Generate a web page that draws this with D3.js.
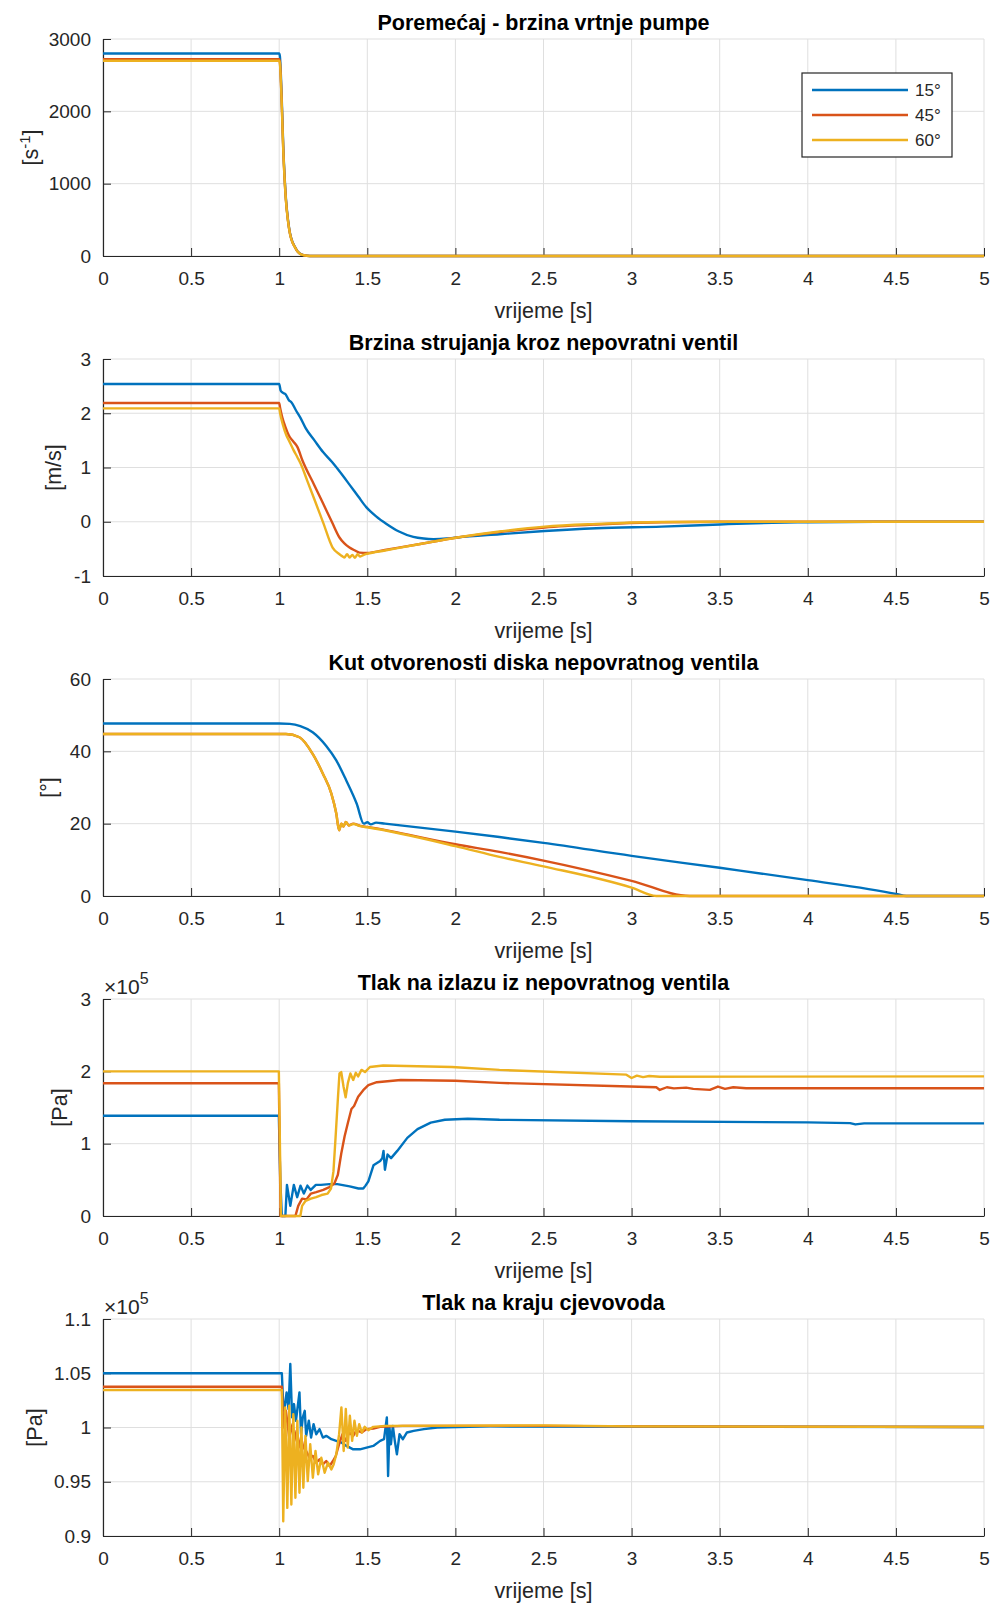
<!DOCTYPE html>
<html>
<head>
<meta charset="utf-8">
<script src="https://cdn.jsdelivr.net/npm/d3@7"></script>
<style>
  body { margin: 0; background: #fff; }
  svg { display: block; font-family: "Liberation Sans", Arial, sans-serif; }
</style>
</head>
<body>
<svg id="chart" width="992" height="1603"></svg>
<script>
// ---------------- DATA ----------------
const timeTicks = [0, 0.5, 1, 1.5, 2, 2.5, 3, 3.5, 4, 4.5, 5];
const timeTickLabels = ["0", "0.5", "1", "1.5", "2", "2.5", "3", "3.5", "4", "4.5", "5"];

const seriesNames = ["15°", "45°", "60°"];
const seriesColors = ["#0072BD", "#D95319", "#EDB120"];

const titles = [
  "Poremećaj - brzina vrtnje pumpe",
  "Brzina strujanja kroz nepovratni ventil",
  "Kut otvorenosti diska nepovratnog ventila",
  "Tlak na izlazu iz nepovratnog ventila",
  "Tlak na kraju cjevovoda"
];

// y ticks per subplot
const speedTicks = [0, 1000, 2000, 3000];
const flowTicks = [-1, 0, 1, 2, 3];
const angleTicks = [0, 20, 40, 60];
const pOutTicks = [0, 1, 2, 3];
const pEndTicks = [0.9, 0.95, 1, 1.05, 1.1];
const pEndTickLabels = ["0.9", "0.95", "1", "1.05", "1.1"];

// 1) pump speed [1/s]
const speed15 = [[0,2800],[1,2800],[1.004,2760],[1.013,2280],[1.023,1520],[1.038,800],[1.05,500],[1.061,320],[1.075,195],[1.089,128],[1.103,68],[1.117,34],[1.14,11],[1.174,0],[5,0]];
const speed45 = [[0,2720],[1,2720],[1.004,2680],[1.013,2215],[1.023,1478],[1.038,778],[1.05,486],[1.061,311],[1.075,190],[1.089,124],[1.103,66],[1.117,33],[1.14,10],[1.174,0],[5,0]];
const speed60 = [[0,2700],[1,2700],[1.004,2660],[1.013,2200],[1.023,1465],[1.038,772],[1.05,482],[1.061,309],[1.075,188],[1.089,123],[1.103,65],[1.117,32],[1.14,10],[1.174,0],[5,0]];

// 2) flow velocity through check valve [m/s]
const flow15 = [[0,2.54],[1,2.54],[1.008,2.42],[1.02,2.38],[1.036,2.35],[1.055,2.24],[1.07,2.2],[1.094,2.06],[1.12,1.92],[1.151,1.72],[1.2,1.5],[1.25,1.28],[1.3,1.1],[1.342,0.93],[1.4,0.68],[1.45,0.46],[1.494,0.27],[1.55,0.1],[1.609,-0.04],[1.68,-0.18],[1.761,-0.28],[1.82,-0.31],[1.876,-0.32],[1.95,-0.31],[2.01,-0.29],[2.25,-0.23],[2.506,-0.17],[2.8,-0.12],[3.17,-0.09],[3.5,-0.05],[3.8,-0.02],[4,-0.01],[4.5,0],[5,0]];
const flow45 = [[0,2.19],[1,2.19],[1.005,2.1],[1.017,1.93],[1.035,1.75],[1.055,1.59],[1.08,1.48],[1.103,1.38],[1.132,1.13],[1.2,0.67],[1.25,0.33],[1.3,-0.01],[1.342,-0.29],[1.37,-0.4],[1.399,-0.475],[1.43,-0.53],[1.456,-0.57],[1.5,-0.575],[1.6,-0.52],[1.8,-0.41],[2.01,-0.29],[2.25,-0.19],[2.506,-0.105],[2.8,-0.05],[3.17,-0.01],[3.5,0],[5,0]];
const flow60 = [[0,2.09],[1,2.09],[1.005,2.0],[1.02,1.8],[1.04,1.6],[1.055,1.5],[1.08,1.33],[1.103,1.19],[1.122,1.07],[1.16,0.75],[1.2,0.41],[1.25,-0.02],[1.303,-0.475],[1.342,-0.6],[1.36,-0.64],[1.37,-0.66],[1.385,-0.6],[1.4,-0.66],[1.415,-0.61],[1.43,-0.665],[1.445,-0.6],[1.46,-0.64],[1.48,-0.61],[1.5,-0.59],[1.6,-0.53],[1.8,-0.41],[2.01,-0.29],[2.25,-0.18],[2.506,-0.09],[2.8,-0.04],[3.17,-0.005],[3.5,0],[5,0]];

// 3) disc opening angle [deg]
const angle15 = [[0,47.7],[1,47.7],[1.06,47.6],[1.12,47],[1.19,45.3],[1.267,41.5],[1.324,37.5],[1.38,32],[1.44,25.5],[1.48,20],[1.5,20.4],[1.52,19.8],[1.55,20.3],[1.6,20],[2,17.8],[2.25,16.3],[2.5,14.7],[3,11.1],[3.5,7.8],[4,4.4],[4.5,0.6],[4.56,0],[5,0]];
const angle45 = [[0,44.8],[1,44.8],[1.038,44.8],[1.115,43.9],[1.19,39.3],[1.248,33.8],[1.296,28.3],[1.324,22.8],[1.34,18.2],[1.353,20],[1.365,19.2],[1.378,20.5],[1.395,19.5],[1.42,20],[1.46,19.4],[1.5,19.1],[2,14.3],[2.25,12.2],[2.5,9.8],[3,4.2],[3.33,0],[5,0]];
const angle60 = [[0,44.8],[1,44.8],[1.038,44.8],[1.115,43.9],[1.19,39.3],[1.248,33.8],[1.296,28.3],[1.324,22.8],[1.34,18.2],[1.353,20],[1.365,19.2],[1.378,20.5],[1.395,19.5],[1.42,19.9],[1.46,19.3],[1.5,19],[2,13.8],[2.25,10.8],[2.5,8.2],[3,2.3],[3.14,0],[5,0]];

// 4) pressure at check valve outlet [x1e5 Pa]
const pOut15 = [[0,1.385],[0.998,1.385],[1.006,0.5],[1.015,0],[1.035,0],[1.044,0.43],[1.063,0.14],[1.083,0.43],[1.102,0.26],[1.121,0.42],[1.14,0.31],[1.16,0.42],[1.179,0.36],[1.208,0.43],[1.237,0.43],[1.285,0.44],[1.33,0.44],[1.4,0.41],[1.45,0.38],[1.477,0.38],[1.49,0.42],[1.506,0.48],[1.535,0.7],[1.573,0.76],[1.585,0.8],[1.592,0.9],[1.6,0.64],[1.615,0.85],[1.635,0.8],[1.67,0.9],[1.727,1.08],[1.785,1.2],[1.86,1.29],[1.94,1.33],[2.07,1.345],[2.25,1.33],[3,1.31],[4,1.294],[4.24,1.284],[4.27,1.266],[4.32,1.28],[5,1.28]];
const pOut45 = [[0,1.835],[0.998,1.835],[1.008,0],[1.092,0],[1.108,0.14],[1.13,0.24],[1.155,0.23],[1.18,0.31],[1.21,0.33],[1.25,0.36],[1.285,0.4],[1.313,0.45],[1.333,0.57],[1.352,0.86],[1.371,1.1],[1.39,1.29],[1.41,1.48],[1.425,1.52],[1.448,1.65],[1.477,1.74],[1.506,1.81],[1.554,1.85],[1.69,1.88],[2,1.87],[2.25,1.84],[2.99,1.79],[3.14,1.78],[3.16,1.743],[3.2,1.78],[3.24,1.765],[3.31,1.775],[3.35,1.757],[3.444,1.743],[3.49,1.79],[3.53,1.757],[3.577,1.78],[3.65,1.766],[5,1.766]];
const pOut60 = [[0,2.0],[0.998,2.0],[1.01,0],[1.12,0],[1.13,0.14],[1.15,0.21],[1.18,0.24],[1.21,0.26],[1.24,0.29],[1.275,0.31],[1.294,0.38],[1.308,0.62],[1.319,1.05],[1.333,1.62],[1.342,1.97],[1.352,1.99],[1.365,1.79],[1.377,1.64],[1.39,1.84],[1.404,1.97],[1.42,1.88],[1.435,1.98],[1.448,1.93],[1.467,2.02],[1.487,1.99],[1.515,2.06],[1.59,2.08],[1.98,2.06],[2.25,2.02],[2.97,1.954],[3,1.908],[3.03,1.94],[3.065,1.92],[3.1,1.935],[3.16,1.925],[5,1.93]];

// 5) pressure at pipeline end [x1e5 Pa]
const pEnd15 = [[0,1.05],[1.015,1.05],[1.023,1.02],[1.029,1.0154],[1.042,1.0324],[1.053,1.017],[1.063,1.0586],[1.073,1.0093],[1.084,1.0216],[1.095,1.0062],[1.115,1.0324],[1.124,0.9938],[1.134,1.0093],[1.145,1.0154],[1.153,0.9923],[1.168,1.0062],[1.181,0.9907],[1.195,1.0031],[1.21,0.9938],[1.229,0.9985],[1.248,0.9907],[1.267,0.9923],[1.296,0.9892],[1.324,0.9877],[1.353,0.9861],[1.382,0.983],[1.42,0.9799],[1.458,0.9799],[1.496,0.9815],[1.534,0.983],[1.573,0.9877],[1.595,0.9892],[1.611,1.0093],[1.618,0.9553],[1.626,1.0],[1.634,0.9846],[1.645,1.0015],[1.656,0.9877],[1.668,0.9753],[1.683,0.9938],[1.702,0.9892],[1.725,0.9954],[1.763,0.9969],[1.821,0.9985],[1.897,1.0],[2.2,1.001],[5,1.0005]];
const pEnd45 = [[0,1.0375],[1.015,1.0375],[1.023,1.0],[1.038,1.0154],[1.057,0.9907],[1.076,1.0031],[1.086,0.9877],[1.099,0.9969],[1.111,0.9815],[1.124,0.9907],[1.137,0.9815],[1.153,0.9784],[1.172,0.9722],[1.191,0.9738],[1.21,0.9676],[1.229,0.9707],[1.248,0.966],[1.267,0.9691],[1.286,0.9645],[1.305,0.9691],[1.321,0.9737],[1.34,0.9846],[1.359,0.9938],[1.378,0.9877],[1.397,0.9954],[1.42,0.9923],[1.439,0.9975],[1.468,0.9954],[1.496,0.9985],[1.534,0.9991],[1.573,1.0006],[1.7,1.0015],[2.5,1.0015],[3,1.001],[5,1.0005]];
const pEnd60 = [[0,1.0345],[1.015,1.0345],[1.023,0.9136],[1.034,1.0185],[1.046,0.9259],[1.057,1.0201],[1.069,0.929],[1.08,1.0123],[1.092,0.9352],[1.103,1.0062],[1.115,0.9398],[1.126,1.0],[1.137,0.9444],[1.149,0.9923],[1.162,0.9506],[1.176,0.9846],[1.191,0.9537],[1.206,0.9784],[1.221,0.9568],[1.239,0.9722],[1.258,0.9583],[1.277,0.9676],[1.296,0.9614],[1.309,0.966],[1.324,0.9753],[1.34,0.9938],[1.353,1.0185],[1.366,0.9784],[1.378,1.017],[1.389,0.9815],[1.401,1.0108],[1.414,0.9877],[1.427,1.0062],[1.441,0.9923],[1.454,1.0031],[1.469,0.9954],[1.485,1.0006],[1.506,0.9975],[1.534,1.0006],[1.6,1.0015],[2.5,1.002],[3,1.001],[5,1.0005]];

// ---------------- LAYOUT ----------------
const svg = d3.select("#chart");
const left = 103, right = 984, plotH = 217;
const tops = [39, 359, 679, 999, 1319];
const tickFont = 19, labelFont = 21.5, titleFont = 21.5;
const axisColor = "#262626", gridColor = "#dfdfdf";

const panels = [
  { series: [speed15, speed45, speed60], domain: [0, 3000], ticks: speedTicks, labels: speedTicks.map(String), ylabel: "s", ylabelX: 30, curve: d3.curveMonotoneX, legend: true },
  { series: [flow15, flow45, flow60], domain: [-1, 3], ticks: flowTicks, labels: flowTicks.map(String), ylabel: "[m/s]", ylabelX: 53, curve: d3.curveMonotoneX },
  { series: [angle15, angle45, angle60], domain: [0, 60], ticks: angleTicks, labels: angleTicks.map(String), ylabel: "[°]", ylabelX: 48, curve: d3.curveMonotoneX },
  { series: [pOut15, pOut45, pOut60], domain: [0, 3], ticks: pOutTicks, labels: pOutTicks.map(String), ylabel: "[Pa]", ylabelX: 59, curve: d3.curveLinear, exponent: true },
  { series: [pEnd15, pEnd45, pEnd60], domain: [0.9, 1.1], ticks: pEndTicks, labels: pEndTickLabels, ylabel: "[Pa]", ylabelX: 34, curve: d3.curveLinear, exponent: true }
];

const x = d3.scaleLinear().domain([0, 5]).range([left, right]);

panels.forEach((p, i) => {
  const top = tops[i], bottom = top + plotH;
  const y = d3.scaleLinear().domain(p.domain).range([bottom, top]);
  const g = svg.append("g");

  // ---------------- GRID ----------------
  g.selectAll(".gx").data(timeTicks).join("line")
    .attr("x1", d => x(d)).attr("x2", d => x(d))
    .attr("y1", top).attr("y2", bottom)
    .attr("stroke", gridColor).attr("stroke-width", 1);
  g.selectAll(".gy").data(p.ticks).join("line")
    .attr("x1", left).attr("x2", right)
    .attr("y1", d => y(d)).attr("y2", d => y(d))
    .attr("stroke", gridColor).attr("stroke-width", 1);

  // ---------------- AXES ----------------
  const xAxis = g.append("g")
    .attr("transform", `translate(0,${bottom})`)
    .call(d3.axisBottom(x).tickValues(timeTicks)
      .tickFormat((d, k) => timeTickLabels[k])
      .tickSizeInner(-8).tickSizeOuter(0).tickPadding(16));
  const yAxis = g.append("g")
    .attr("transform", `translate(${left},0)`)
    .call(d3.axisLeft(y).tickValues(p.ticks)
      .tickFormat((d, k) => p.labels[k])
      .tickSizeInner(-8).tickSizeOuter(0).tickPadding(12));
  [xAxis, yAxis].forEach(a => {
    a.attr("color", axisColor)
      .attr("font-family", null)
      .attr("font-size", tickFont);
    a.select(".domain").attr("stroke-width", 1.2);
  });

  // x label
  g.append("text")
    .attr("x", (left + right) / 2).attr("y", bottom + 62)
    .attr("text-anchor", "middle")
    .attr("font-size", labelFont).attr("fill", axisColor)
    .text("vrijeme [s]");

  // y label
  const yl = g.append("text")
    .attr("transform", `translate(${p.ylabelX},${(top + bottom) / 2}) rotate(-90)`)
    .attr("text-anchor", "middle")
    .attr("dy", "0.35em")
    .attr("font-size", labelFont).attr("fill", axisColor);
  if (p.ylabel === "s") {
    yl.append("tspan").text("[s");
    yl.append("tspan").attr("dy", -8).attr("font-size", 15).text("-1");
    yl.append("tspan").attr("dy", 8).text("]");
  } else {
    yl.text(p.ylabel);
  }

  // title
  g.append("text")
    .attr("x", (left + right) / 2).attr("y", top - 9)
    .attr("text-anchor", "middle")
    .attr("font-size", titleFont).attr("font-weight", "bold")
    .attr("fill", "#000")
    .text(titles[i]);

  // x10^5 exponent
  if (p.exponent) {
    const ex = g.append("text")
      .attr("x", left + 1).attr("y", top - 5)
      .attr("font-size", 21).attr("fill", axisColor);
    ex.append("tspan").text("×10");
    ex.append("tspan").attr("dy", -10).attr("font-size", 16).text("5");
  }

  // ---------------- LINES ----------------
  const line = d3.line()
    .x(d => x(d[0]))
    .y(d => y(d[1]))
    .curve(p.curve);
  g.selectAll(".series").data(p.series).join("path")
    .attr("d", line)
    .attr("fill", "none")
    .attr("stroke", (d, k) => seriesColors[k])
    .attr("stroke-width", 2.4)
    .attr("stroke-linejoin", "round");

  // ---------------- LEGEND ----------------
  if (p.legend) {
    const lg = g.append("g").attr("transform", "translate(802,73)");
    lg.append("rect")
      .attr("width", 150).attr("height", 84)
      .attr("fill", "#fff").attr("stroke", axisColor).attr("stroke-width", 1.2);
    seriesNames.forEach((name, k) => {
      lg.append("line")
        .attr("x1", 10).attr("x2", 106)
        .attr("y1", 17 + k * 25).attr("y2", 17 + k * 25)
        .attr("stroke", seriesColors[k]).attr("stroke-width", 2.4);
      lg.append("text")
        .attr("x", 113).attr("y", 17 + k * 25)
        .attr("dy", "0.35em")
        .attr("font-size", 17).attr("fill", axisColor)
        .text(name);
    });
  }
});
</script>
</body>
</html>
